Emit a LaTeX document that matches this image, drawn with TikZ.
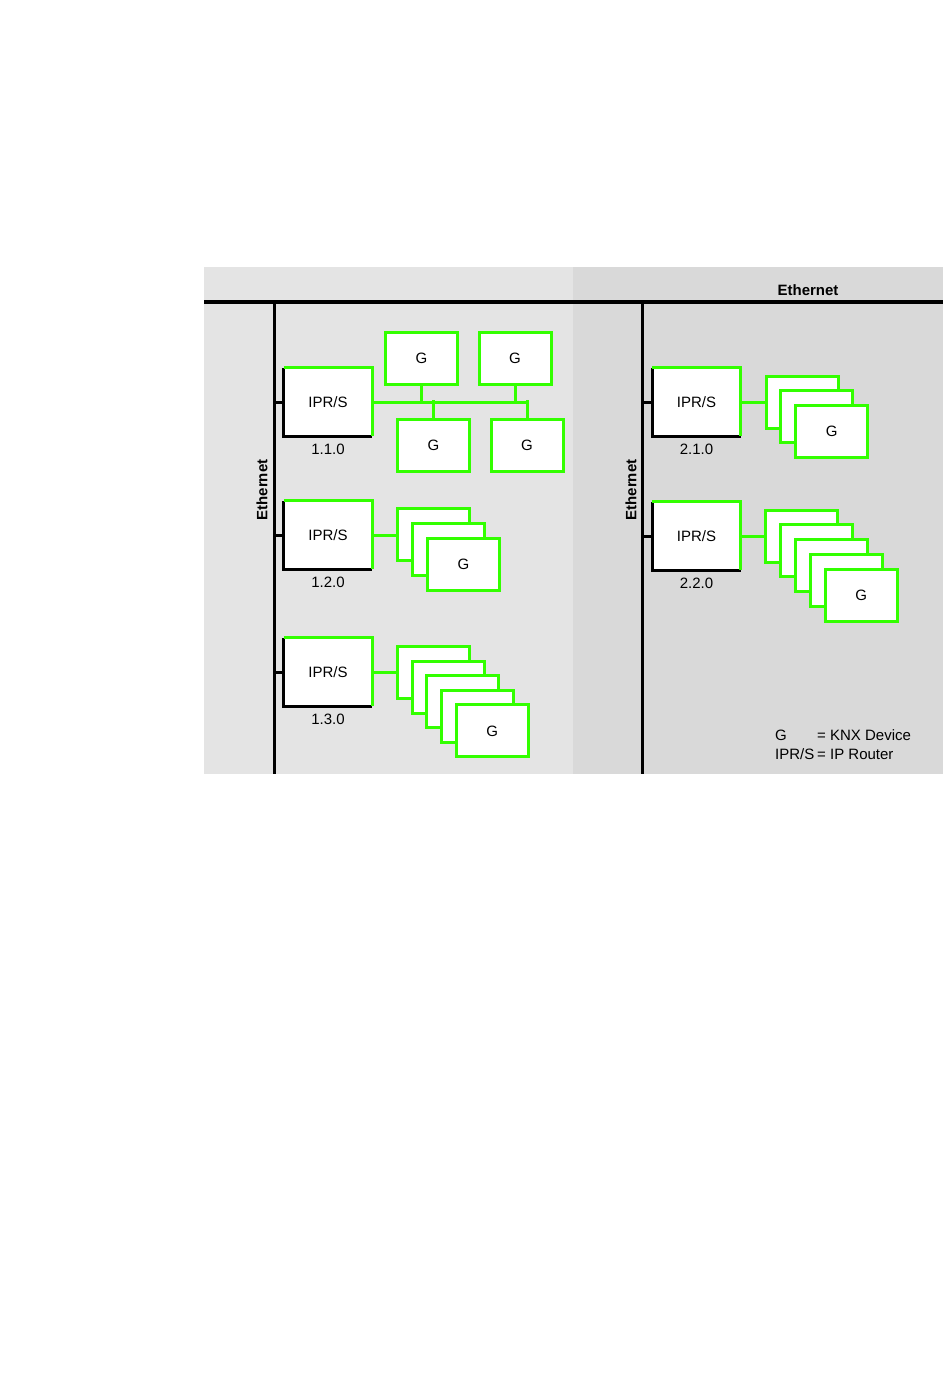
\documentclass[tikz,border=0pt]{standalone}
\usepackage{fontspec}
\setmainfont{Liberation Sans}
\definecolor{knxgreen}{RGB}{51,255,0}
\definecolor{panelA}{RGB}{228,228,228}
\definecolor{panelB}{RGB}{217,217,217}
\begin{document}
\begin{tikzpicture}[x=1pt,y=-1pt,
  every node/.style={font=\fontsize{15}{17}\selectfont},
  gbox/.style={draw=knxgreen,line width=3pt,fill=white,minimum width=72pt,minimum height=52pt,inner sep=0pt},
  iprbox/.style={fill=white,minimum width=88pt,minimum height=68pt,inner sep=0pt},
  gline/.style={draw=knxgreen,line width=3pt},
  bline/.style={draw=black,line width=3pt},
  eth/.style={font=\fontsize{15}{17}\selectfont\bfseries}
]
\useasboundingbox (0,0) rectangle (950,1378);
\fill[white] (0,0) rectangle (950,1378);
% panels
\fill[panelA] (204,267) rectangle (573,774);
\fill[panelB] (573,267) rectangle (943,774);
% ethernet lines
\coordinate (hL) at (204,302);
\coordinate (hR) at (943,302);
\coordinate (vLt) at (274,302);
\coordinate (vLb) at (274,774);
\coordinate (vRt) at (642,302);
\coordinate (vRb) at (642,774);
\draw[draw=black,line width=4pt] (hL) -- (hR);
\draw[bline] (vLt) -- (vLb);
\draw[bline] (vRt) -- (vRb);
\node[eth] (ethtop) at (808,290) {Ethernet};
\node[eth,rotate=90] (ethL) at (262,490) {Ethernet};
\node[eth,rotate=90] (ethR) at (631,490) {Ethernet};

% IPR boxes
\newcommand{\iprbox}[4]{%
  \node[iprbox] (#1) at (#2) {IPR/S};
  \draw[bline] (#1.north west) -- (#1.south west) -- (#1.south east);
  \draw[gline] (#1.north west) -- (#1.north east) -- (#1.south east);
  \node (#1lab) at ([yshift=-13pt]#1.south) {#3};
  \draw[bline] (#1.west) -- (#1.west -| #4);
}
\iprbox{ipra}{328,402}{1.1.0}{vLt}
\iprbox{iprb}{328,535}{1.2.0}{vLt}
\iprbox{iprc}{328,672}{1.3.0}{vLt}
\iprbox{iprd}{696.5,402}{2.1.0}{vRt}
\iprbox{ipre}{696.5,536}{2.2.0}{vRt}

% 1.1.0 group
\node[gbox] (ga1) at (421.5,358.5) {G};
\node[gbox] (ga2) at (515,358.5) {G};
\node[gbox] (ga3) at (433.5,445) {G};
\node[gbox] (ga4) at (527,445) {G};
\draw[gline] (ipra.east) -- (ipra.east -| ga4.north);
\draw[gline] (ga1.south) -- (ga1.south |- ipra.east);
\draw[gline] (ga2.south) -- (ga2.south |- ipra.east);
\draw[gline] (ga3.north) -- ([yshift=2pt]ga3.north |- ipra.east);
\draw[gline] (ga4.north) -- ([yshift=2pt]ga4.north |- ipra.east);

% 1.2.0 stack
\node[gbox] (gb1) at (433.5,534.5) {};
\node[gbox] (gb2) at (448.5,549.5) {};
\node[gbox] (gb3) at (463.5,564.5) {G};
\draw[gline] (iprb.east) -- (iprb.east -| gb1.west);

% 1.3.0 stack
\node[gbox] (gc1) at (433.5,672.5) {};
\node[gbox] (gc2) at (448.2,687.1) {};
\node[gbox] (gc3) at (462.9,701.7) {};
\node[gbox] (gc4) at (477.6,716.3) {};
\node[gbox] (gc5) at (492.3,730.9) {G};
\draw[gline] (iprc.east) -- (iprc.east -| gc1.west);

% 2.1.0 stack
\node[gbox] (gd1) at (802,402) {};
\node[gbox] (gd2) at (816.8,416.8) {};
\node[gbox] (gd3) at (831.6,431.6) {G};
\draw[gline] (iprd.east) -- (iprd.east -| gd1.west);

% 2.2.0 stack
\node[gbox] (ge1) at (801.5,536) {};
\node[gbox] (ge2) at (816.4,550.9) {};
\node[gbox] (ge3) at (831.3,565.8) {};
\node[gbox] (ge4) at (846.2,580.7) {};
\node[gbox] (ge5) at (861.1,595.6) {G};
\draw[gline] (ipre.east) -- (ipre.east -| ge1.west);

% legend
\node[anchor=west,inner sep=0pt] (lg1) at (775,735) {G};
\node[anchor=west,inner sep=0pt] (lg2) at (817,735) {= KNX Device};
\node[anchor=west,inner sep=0pt] (lg3) at (775,754) {IPR/S};
\node[anchor=west,inner sep=0pt] (lg4) at (817,754) {= IP Router};
\end{tikzpicture}
\end{document}
